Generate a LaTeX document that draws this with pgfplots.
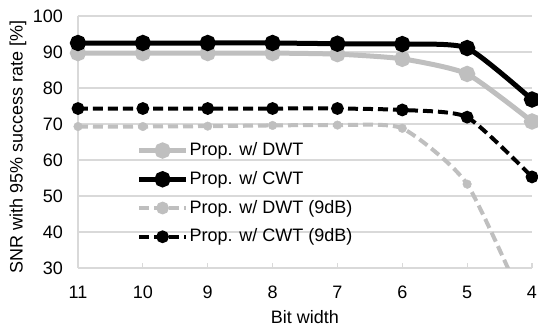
\documentclass[border=0pt]{standalone}
\usepackage{fontspec}
\setmainfont{Liberation Sans}
\usepackage{pgfplots}
\pgfplotsset{compat=1.18}
\definecolor{lg}{HTML}{BFBFBF}
\definecolor{gridc}{HTML}{D9D9D9}
\newcommand{\chartfont}{\fontsize{18}{21.6}\selectfont}
\begin{document}
\chartfont
\begin{tikzpicture}
\begin{axis}[
  scale only axis, width=454pt, height=252pt,
  xmin=0, xmax=7, ymin=30, ymax=100,
  xtick={0,...,7}, xticklabels={11,10,9,8,7,6,5,4},
  ytick={30,40,...,100},
  ymajorgrids, grid style={gridc, line width=1.2pt},
  axis x line=bottom, axis y line=left,
  axis line style={gridc, line width=1.5pt, -},
  tick align=inside, major tick length=5pt,
  xtick style={gridc, line width=1.2pt},
  ytick style={draw=none},
  /pgf/number format/assume math mode=true,
  tick label style={font=\chartfont},
  xticklabel style={yshift=-11.5pt},
  yticklabel style={xshift=-9pt},
  xlabel={Bit width}, ylabel={SNR with 95\% success rate [\%]},
  label style={font=\chartfont},
  xlabel style={at={(axis description cs:0.5,-0.195)}, anchor=center},
  ylabel style={at={(axis description cs:-0.132,0.48)}, anchor=center},
  clip mode=individual,
  legend style={at={(axis description cs:0.122,0.518)}, anchor=north west,
    draw=none, fill=none, font=\chartfont, row sep=7pt,
    nodes={inner xsep=1pt, inner ysep=3pt}},
  legend cell align=left,
  legend image code/.code={\draw[mark repeat=2,mark phase=2,#1] plot coordinates {(0pt,0pt) (23.5pt,0pt) (47pt,0pt)};},
]
\addplot[lg, line width=5pt, smooth, tension=0.35, mark=*, mark size=5.6pt, mark options={solid, fill=lg}]
  coordinates {(0,89.7)(1,89.7)(2,89.7)(3,89.7)(4,89.4)(5,88.1)(6,83.9)(7,70.7)};
\addlegendentry{Prop. w/ DWT}
\addplot[black, line width=5pt, smooth, tension=0.35, mark=*, mark size=5.6pt, mark options={solid, fill=black}]
  coordinates {(0,92.5)(1,92.5)(2,92.5)(3,92.5)(4,92.3)(5,92.2)(6,91.1)(7,76.8)};
\addlegendentry{Prop. w/ CWT}
\addplot[lg, line width=4pt, dash pattern=on 10pt off 5pt, smooth, tension=0.35, forget plot]
  coordinates {(0,69.3)(1,69.3)(2,69.4)(3,69.6)(4,69.7)(5,68.8)(6,53.3)(7,15)};
\addplot[lg, only marks, mark=*, mark size=4.3pt, mark options={solid, fill=lg}, forget plot]
  coordinates {(0,69.3)(1,69.3)(2,69.4)(3,69.6)(4,69.7)(5,68.8)(6,53.3)};
\addlegendimage{lg, line width=4pt, dash pattern=on 10pt off 5pt, mark=*, mark size=4.3pt, mark options={solid, fill=lg}}
\addlegendentry{Prop. w/ DWT (9dB)}
\addplot[black, line width=4pt, dash pattern=on 10pt off 5pt, smooth, tension=0.35, mark=*, mark size=4.3pt, mark options={solid, fill=black}]
  coordinates {(0,74.3)(1,74.3)(2,74.3)(3,74.3)(4,74.3)(5,73.9)(6,71.9)(7,55.3)};
\addlegendentry{Prop. w/ CWT (9dB)}
\end{axis}
\pgfresetboundingbox
\path[use as bounding box] (-78pt,-60pt) rectangle (460pt,268pt);
\end{tikzpicture}
\end{document}
